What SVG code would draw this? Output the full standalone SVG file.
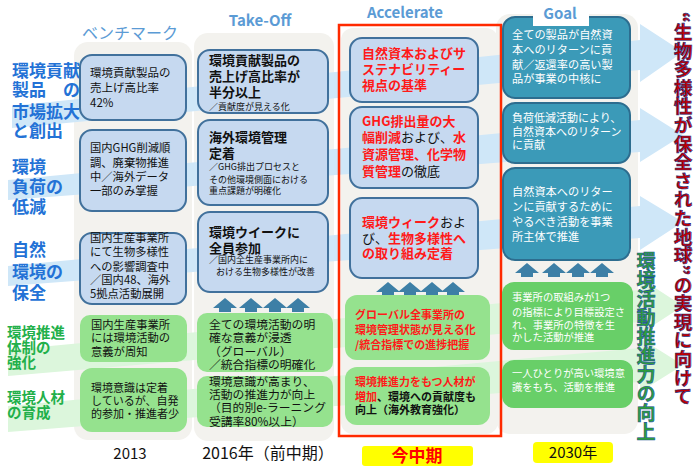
<svg xmlns="http://www.w3.org/2000/svg" width="700" height="466" viewBox="0 0 700 466">
<style>
text{font-family:"Noto Sans CJK JP","Noto Sans",sans-serif}
.panel{fill:#f3f2ee}
.bb{fill:#c6d9f0;stroke:#41719c;stroke-width:2}
.gb{fill:#95e28e}
.gb2{fill:#68cf68}
.tb{fill:#3b9ab8;stroke:#2d6d8f;stroke-width:2}
.bandB{fill:#cfe7f8}
.bandG{fill:#dcf6dc}
.up{fill:#3d7fa6}
.lb{fill:#2372d6;font-weight:700;font-size:17px}
.lg{fill:#22b04a;font-weight:700;font-size:14.5px}
.k{fill:#111}
.r{fill:#ff1a1a}
.w{fill:#fff}
.hd{fill:#5b9bd5;font-weight:700}
</style>
<defs>
<path id="ua" d="M0,0 L12,10 L6,10 L6,14 L-6,14 L-6,10 L-12,10 Z"/>
</defs>
<rect width="700" height="466" fill="#fff"/>
<g id="panels">
<rect class="panel" x="74" y="42" width="118" height="398" rx="14"/>
<rect class="panel" x="194" y="33" width="140" height="408" rx="14"/>
<rect class="panel" x="341" y="28" width="157" height="406" rx="12"/>
<rect class="panel" x="496" y="14" width="142" height="420" rx="14"/>
</g>
<g id="connectors">
<polygon class="bandB" points="12,106 640,40 640,24 683,52 640,82 640,70 12,128"/>
<polygon class="bandB" points="8,180 640,120 640,108 683,135 640,162 640,152 8,200"/>
<polygon class="bandB" points="8,266 640,206 640,196 683,222 640,250 640,238 8,286"/>
<polygon class="bandG" points="8,350 640,290 640,278 683,306 640,334 640,322 8,376"/>
<polygon class="bandG" points="8,406 640,348 640,338 683,365 640,392 640,382 8,432"/>
<g class="up">
<use href="#ua" x="225" y="298"/><use href="#ua" x="251" y="298"/><use href="#ua" x="275" y="298"/><use href="#ua" x="298" y="298"/>
<use href="#ua" x="388" y="282"/><use href="#ua" x="410" y="282"/><use href="#ua" x="432" y="282"/><use href="#ua" x="453" y="282"/>
<use href="#ua" x="527" y="263"/><use href="#ua" x="554" y="263"/><use href="#ua" x="578" y="263"/><use href="#ua" x="602" y="263"/>
</g>
</g>
<g id="labels">
<text class="lb" x="12" y="77">環境貢献<tspan x="12" y="96">製品　の</tspan><tspan x="12" y="118">市場拡大</tspan><tspan x="12" y="137">と創出</tspan></text>
<text class="lb" x="12" y="173">環境<tspan x="12" y="193">負荷の</tspan><tspan x="12" y="213">低減</tspan></text>
<text class="lb" x="12" y="256">自然<tspan x="12" y="278">環境の</tspan><tspan x="12" y="299">保全</tspan></text>
<text class="lg" x="7" y="338">環境推進<tspan x="7" y="353">体制の</tspan><tspan x="7" y="368">強化</tspan></text>
<text class="lg" x="7" y="403">環境人材<tspan x="7" y="418">の育成</tspan></text>
</g>
<g id="headers">
<text class="hd" x="130" y="39" font-size="16" text-anchor="middle" style="font-weight:400">ベンチマーク</text>
<text class="hd" x="260" y="26" font-size="15" text-anchor="middle">Take-Off</text>
<text class="hd" x="405" y="18" font-size="15" text-anchor="middle">Accelerate</text>
</g>
<rect id="current-frame" x="339" y="25" width="162" height="411" fill="none" stroke="#ff2a00" stroke-width="2.5"/>
<g id="c1r1"><rect class="bb" x="80" y="55" width="106" height="65" rx="12"/>
<text class="k" font-size="11.5" x="90" y="77">環境貢献製品の<tspan x="90" y="92">売上げ高比率</tspan><tspan x="90" y="107">42%</tspan></text></g>
<g id="c1r2"><rect class="bb" x="80" y="130" width="106" height="81" rx="12"/>
<text class="k" font-size="11.3" x="90" y="152">国内GHG削減順<tspan x="90" y="167">調、廃棄物推進</tspan><tspan x="90" y="181">中／海外データ</tspan><tspan x="90" y="195">一部のみ掌握</tspan></text></g>
<g id="c1r3"><rect class="bb" x="80" y="233" width="106" height="71" rx="12"/>
<text class="k" font-size="11.3" x="90" y="242">国内生産事業所<tspan x="90" y="256">にて生物多様性</tspan><tspan x="90" y="271">への影響調査中</tspan><tspan x="90" y="284">／国内48、海外</tspan><tspan x="90" y="298">5拠点活動展開</tspan></text></g>
<g id="c1r4"><rect class="gb" x="80" y="315" width="107" height="47" rx="10"/>
<text class="k" font-size="11.3" x="91" y="329">国内生産事業所<tspan x="91" y="342">には環境活動の</tspan><tspan x="91" y="356">意義が周知</tspan></text></g>
<g id="c1r5"><rect class="gb" x="80" y="368" width="107" height="64" rx="12"/>
<text class="k" font-size="11" x="91" y="392">環境意識は定着<tspan x="91" y="405">しているが、自発</tspan><tspan x="91" y="418">的参加・推進者少</tspan></text></g>
<g id="c2r1"><rect class="bb" x="198" y="50" width="130" height="63" rx="12"/>
<text class="k" font-size="13" font-weight="700" x="209" y="65">環境貢献製品の<tspan x="209" y="81">売上げ高比率が</tspan><tspan x="209" y="97">半分以上</tspan></text>
<text class="k" font-size="9" x="209" y="110">／貢献度が見える化</text></g>
<g id="c2r2"><rect class="bb" x="198" y="120" width="130" height="85" rx="12"/>
<text class="k" font-size="13" font-weight="700" x="209" y="142">海外環境管理<tspan x="209" y="158">定着</tspan></text>
<text class="k" font-size="9" x="209" y="170">／GHG排出プロセスと<tspan x="209" y="183">その他環境側面における</tspan><tspan x="209" y="194">重点課題が明確化</tspan></text></g>
<g id="c2r3"><rect class="bb" x="198" y="212" width="130" height="80" rx="12"/>
<text class="k" font-size="13" font-weight="700" x="209" y="237">環境ウイークに<tspan x="209" y="253">全員参加</tspan></text>
<text class="k" font-size="9" x="209" y="263">／国内全生産事業所内に<tspan x="216" y="275">おける生物多様性が改善</tspan></text></g>
<g id="c2r4"><rect class="gb" x="197" y="313" width="136" height="59" rx="10"/>
<text class="k" font-size="11.8" x="209" y="329">全ての環境活動の明<tspan x="209" y="342">確な意義が浸透</tspan><tspan x="209" y="356">（グローバル）</tspan><tspan x="209" y="369">／統合指標の明確化</tspan></text></g>
<g id="c2r5"><rect class="gb" x="197" y="376" width="136" height="51" rx="10"/>
<text class="k" font-size="11.8" x="209" y="386">環境意識が高まり、<tspan x="209" y="399">活動の推進力が向上</tspan><tspan x="209" y="412">（目的別e-ラーニング</tspan><tspan x="209" y="426">受講率80%以上）</tspan></text></g>
<g id="c3r1"><rect class="bb" x="350" y="38" width="128" height="64" rx="12"/>
<text class="r" font-size="13" font-weight="700" x="362" y="58">自然資本およびサ<tspan x="362" y="74">ステナビリティー</tspan><tspan x="362" y="90">視点の基準</tspan></text></g>
<g id="c3r2"><rect class="bb" x="350" y="107" width="128" height="81" rx="12"/>
<text font-size="13" font-weight="700" x="362" y="126"><tspan class="r">GHG排出量の大</tspan><tspan x="362" y="142" class="r">幅削減</tspan><tspan class="k" font-weight="400">および、</tspan><tspan class="r">水</tspan><tspan x="362" y="159" class="r">資源管理、化学物</tspan><tspan x="362" y="176" class="r">質管理</tspan><tspan class="k" font-weight="400">の徹底</tspan></text></g>
<g id="c3r3"><rect class="bb" x="350" y="198" width="128" height="80" rx="12"/>
<text font-size="13" font-weight="700" x="362" y="227"><tspan class="r">環境ウィーク</tspan><tspan class="k" font-weight="400">およ</tspan><tspan x="362" y="243" class="k" font-weight="400">び、</tspan><tspan class="r">生物多様性へ</tspan><tspan x="362" y="258" class="r">の取り組み定着</tspan></text></g>
<g id="c3r4"><rect class="gb" x="345" y="295" width="145" height="65" rx="12"/>
<text class="r" font-size="11" font-weight="700" x="355" y="319">グローバル全事業所の<tspan x="355" y="334">環境管理状態が見える化</tspan><tspan x="355" y="349">/統合指標での進捗把握</tspan></text></g>
<g id="c3r5"><rect class="gb" x="345" y="367" width="145" height="58" rx="12"/>
<text font-size="11" font-weight="700" x="355" y="386"><tspan class="r">環境推進力をもつ人材が</tspan><tspan x="355" y="401" class="r">増加</tspan><tspan class="k">、環境への貢献度も</tspan><tspan x="355" y="414" class="k">向上（海外教育強化）</tspan></text></g>
<g id="c4r1"><rect class="tb" x="503" y="17" width="127" height="81" rx="12"/>
<text class="w" font-size="11.2" x="512" y="39">全ての製品が自然資<tspan x="512" y="54">本へのリターンに貢</tspan><tspan x="512" y="69">献／返還率の高い製</tspan><tspan x="512" y="83">品が事業の中核に</tspan></text></g>
<g id="c4r2"><rect class="tb" x="503" y="103" width="127" height="60" rx="12"/>
<text class="w" font-size="11" x="512" y="122">負荷低減活動により、<tspan x="512" y="136">自然資本へのリターン</tspan><tspan x="512" y="149">に貢献</tspan></text></g>
<g id="c4r3"><rect class="tb" x="503" y="168" width="127" height="92" rx="12"/>
<text class="w" font-size="11.2" x="512" y="196">自然資本へのリター<tspan x="512" y="211">ンに貢献するために</tspan><tspan x="512" y="226">やるべき活動を事業</tspan><tspan x="512" y="241">所主体で推進</tspan></text></g>
<g id="c4r4"><rect class="gb2" x="502" y="282" width="131" height="68" rx="12"/>
<text class="w" font-size="10.3" x="512" y="301">事業所の取組みが1つ<tspan x="512" y="316">の指標により目標設定さ</tspan><tspan x="512" y="329">れ、事業所の特徴を生</tspan><tspan x="512" y="341">かした活動が推進</tspan></text></g>
<g id="c4r5"><rect class="gb2" x="502" y="360" width="131" height="48" rx="12"/>
<text class="w" font-size="10.3" x="512" y="377">一人ひとりが高い環境意<tspan x="512" y="391">識をもち、活動を推進</tspan></text></g>
<g id="goal-header">
<rect x="533" y="0" width="56" height="26" fill="#fff"/>
<text class="hd" x="560" y="19" font-size="15" text-anchor="middle">Goal</text>
</g>
<text id="vision" x="683" y="12" font-size="18.6" font-weight="700" fill="#c00000" stroke="#1a2f80" stroke-width="0.6" style="writing-mode:vertical-rl">“生物多様性が保全された地球”の実現に向けて</text>
<text id="power" x="646" y="251" font-size="19" font-weight="700" fill="#2e9e3a" stroke="#1f4f9a" stroke-width="0.6" style="writing-mode:vertical-rl">環境活動推進力の向上</text>
<g id="years">
<text class="k" x="130" y="459" font-size="15" text-anchor="middle">2013</text>
<text class="k" x="268" y="459" font-size="16" text-anchor="middle">2016年（前中期）</text>
<rect x="362" y="446" width="111" height="20" rx="3" fill="#ffff00"/>
<text x="417" y="462" font-size="17" font-weight="700" fill="#ff0000" text-anchor="middle">今中期</text>
<rect x="533" y="442" width="80" height="21" rx="4" fill="#ffff00"/>
<text class="k" x="573" y="458" font-size="15" text-anchor="middle">2030年</text>
</g>
</svg>
